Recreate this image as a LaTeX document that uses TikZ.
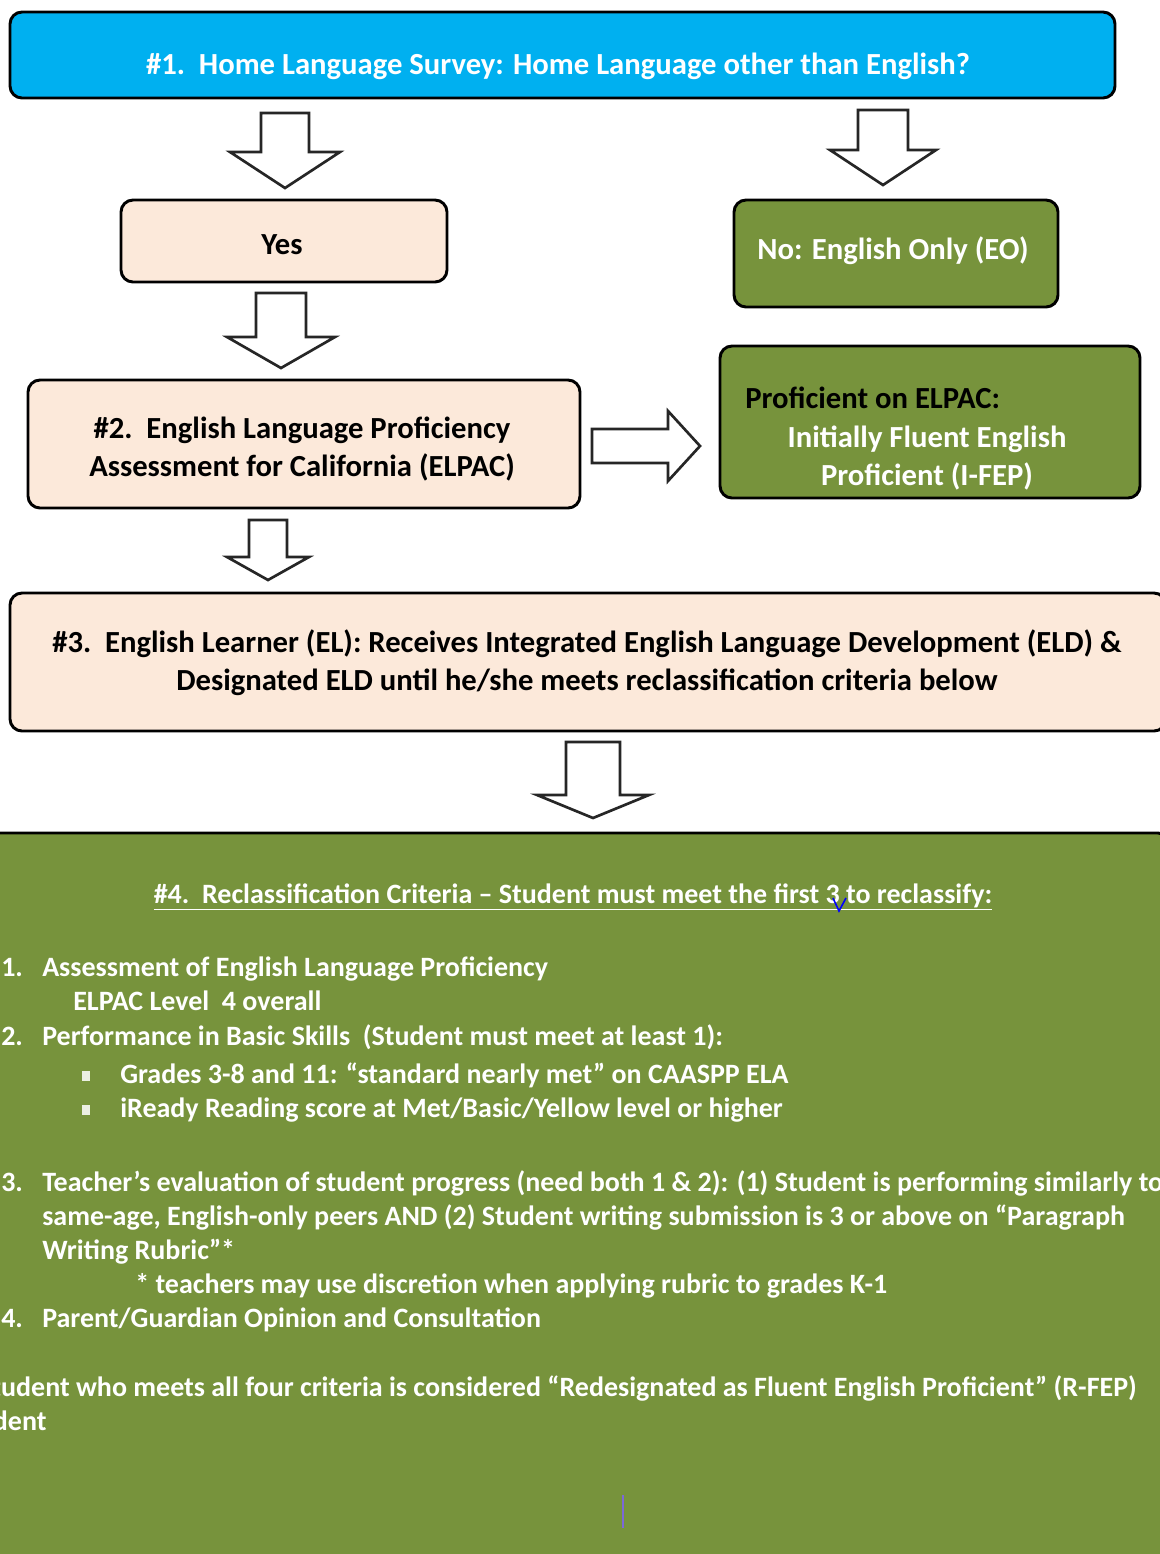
\documentclass[tikz,border=0pt]{standalone}
\usepackage{fontspec}
\setmainfont{Carlito}
\usetikzlibrary{fit}
\definecolor{skyblue}{HTML}{00B0F0}
\definecolor{peach}{HTML}{FCE9DA}
\definecolor{olive}{HTML}{77933C}
\definecolor{cursorpurple}{HTML}{7B68D8}
\tikzset{
  boxbase/.style={draw=black, line width=2.2pt, rounded corners=9pt, inner sep=0pt},
  blockarrow/.style={draw=black!85, line width=2pt, fill=white, line join=miter},
  boxfont/.style={font=\fontsize{23}{28}\selectfont\bfseries},
  listfont/.style={font=\fontsize{21}{26}\selectfont\bfseries},
  wtext/.style={text=white, inner sep=0pt, listfont},
  wbtext/.style={text=white, inner sep=0pt, boxfont},
  btext/.style={text=black, inner sep=0pt, boxfont},
  bulletsq/.style={fill=white!85!olive, inner sep=0pt, minimum width=5.5pt, minimum height=7.5pt},
}
\newcommand\dnarrow[7]{% name, x, ytop, yhead, ytip, shaft hw, head hw
  \draw[blockarrow] (#2-#6,#3) -- (#2+#6,#3) -- (#2+#6,#4) -- (#2+#7,#4) -- (#2,#5) -- (#2-#7,#4) -- (#2-#6,#4) -- cycle;
  \coordinate (#1) at (#2,#5);}
\begin{document}
\begin{tikzpicture}[x=0.75pt,y=-0.75pt]
\useasboundingbox (0,0) rectangle (1160,1554);
\fill[white] (0,0) rectangle (1160,1554);

% boxes
\node[boxbase, fill=skyblue, fit={(10,12) (1115,98)}] (b1) {};
\node[boxbase, fill=peach, fit={(121,200) (447,282)}] (yes) {};
\node[boxbase, fill=olive, fit={(734,200) (1058,307)}] (no) {};
\node[boxbase, fill=peach, fit={(28,380) (580,508)}] (b2) {};
\node[boxbase, fill=olive, fit={(720,346) (1140,498)}] (ifep) {};
\node[boxbase, fill=peach, fit={(10,593) (1166,731)}] (b3) {};
\node[boxbase, fill=olive, fit={(-30,833) (1170,1600)}] (b4) {};

% arrows
\dnarrow{a1}{285}{113}{152}{188}{24}{55}
\dnarrow{a2}{883}{110}{150}{185}{25}{53}
\dnarrow{a3}{281}{293}{337}{368}{25}{54}
\dnarrow{a4}{268}{520}{557}{580}{19}{41}
\dnarrow{a5}{593}{742}{795}{818}{27}{56}
\draw[blockarrow] (592,446-17) -- (668,446-17) -- (668,446-35) -- (700,446) -- (668,446+35) -- (668,446+17) -- (592,446+17) -- cycle;

% texts
\node[wbtext, anchor=mid] (t1) at (558,71) {\#1.\ \ Home Language Survey: Home Language other than English?};
\node[btext, anchor=mid] (tyes) at (282,251) {Yes};
\node[wbtext, anchor=mid] (tno) at (893,256) {No: English Only (EO)};
\node[btext, anchor=mid] (t2a) at (302,435) {\#2.\ \ English Language Proficiency};
\node[btext, anchor=mid] (t2b) at (302,473) {Assessment for California (ELPAC)};
\node[btext, anchor=mid west] (tp1) at (745,405) {Proficient on ELPAC:};
\node[wbtext, anchor=mid] (tp2) at (927,444) {Initially Fluent English};
\node[wbtext, anchor=mid] (tp3) at (927,482) {Proficient (I-FEP)};
\node[btext, anchor=mid] (t3a) at (587,649) {\#3.\ \ English Learner (EL): Receives Integrated English Language Development (ELD) \&};
\node[btext, anchor=mid] (t3b) at (587,687) {Designated ELD until he/she meets reclassification criteria below};

\node[wtext, anchor=mid] (t4) at (573,900) {\underline{\#4.\ \ Reclassification Criteria – Student must meet the first 3 to reclassify:}};
\draw[blue, line width=1.2pt] (833,898) -- (839,911) -- (846,898);

\node[wtext, anchor=mid west] (n1) at (1,973) {1.};
\node[wtext, anchor=mid west] (l1) at (42,973) {Assessment of English Language Proficiency};
\node[wtext, anchor=mid west] (l1b) at (73,1007) {ELPAC Level\ \ 4 overall};
\node[wtext, anchor=mid west] (n2) at (1,1042) {2.};
\node[wtext, anchor=mid west] (l2) at (42,1042) {Performance in Basic Skills\ \ (Student must meet at least 1):};
\node[bulletsq] (bu1) at (86,1076) {};
\node[wtext, anchor=mid west] (l2a) at (120,1080) {Grades 3-8 and 11: “standard nearly met” on CAASPP ELA};
\node[bulletsq] (bu2) at (86,1110) {};
\node[wtext, anchor=mid west] (l2b) at (120,1114) {iReady Reading score at Met/Basic/Yellow level or higher};
\node[wtext, anchor=mid west] (n3) at (1,1188) {3.};
\node[wtext, anchor=mid west] (l3a) at (42,1188) {Teacher’s evaluation of student progress (need both 1 \& 2): (1) Student is performing similarly to};
\node[wtext, anchor=mid west] (l3b) at (42,1222) {same-age, English-only peers AND (2) Student writing submission is 3 or above on “Paragraph};
\node[wtext, anchor=mid west] (l3c) at (42,1256) {Writing Rubric”*};
\node[wtext, anchor=mid west] (l3d) at (135,1290) {* teachers may use discretion when applying rubric to grades K-1};
\node[wtext, anchor=mid west] (n4) at (1,1324) {4.};
\node[wtext, anchor=mid west] (l4) at (42,1324) {Parent/Guardian Opinion and Consultation};
\node[wtext, anchor=mid east] (s1) at (1137,1393) {A student who meets all four criteria is considered “Redesignated as Fluent English Proficient” (R-FEP)};
\node[wtext, anchor=mid west] (s2) at (s1.west |- 0,1427) {student};
\draw[cursorpurple, line width=1.2pt] (623,1495) -- (623,1528);
\end{tikzpicture}
\end{document}
